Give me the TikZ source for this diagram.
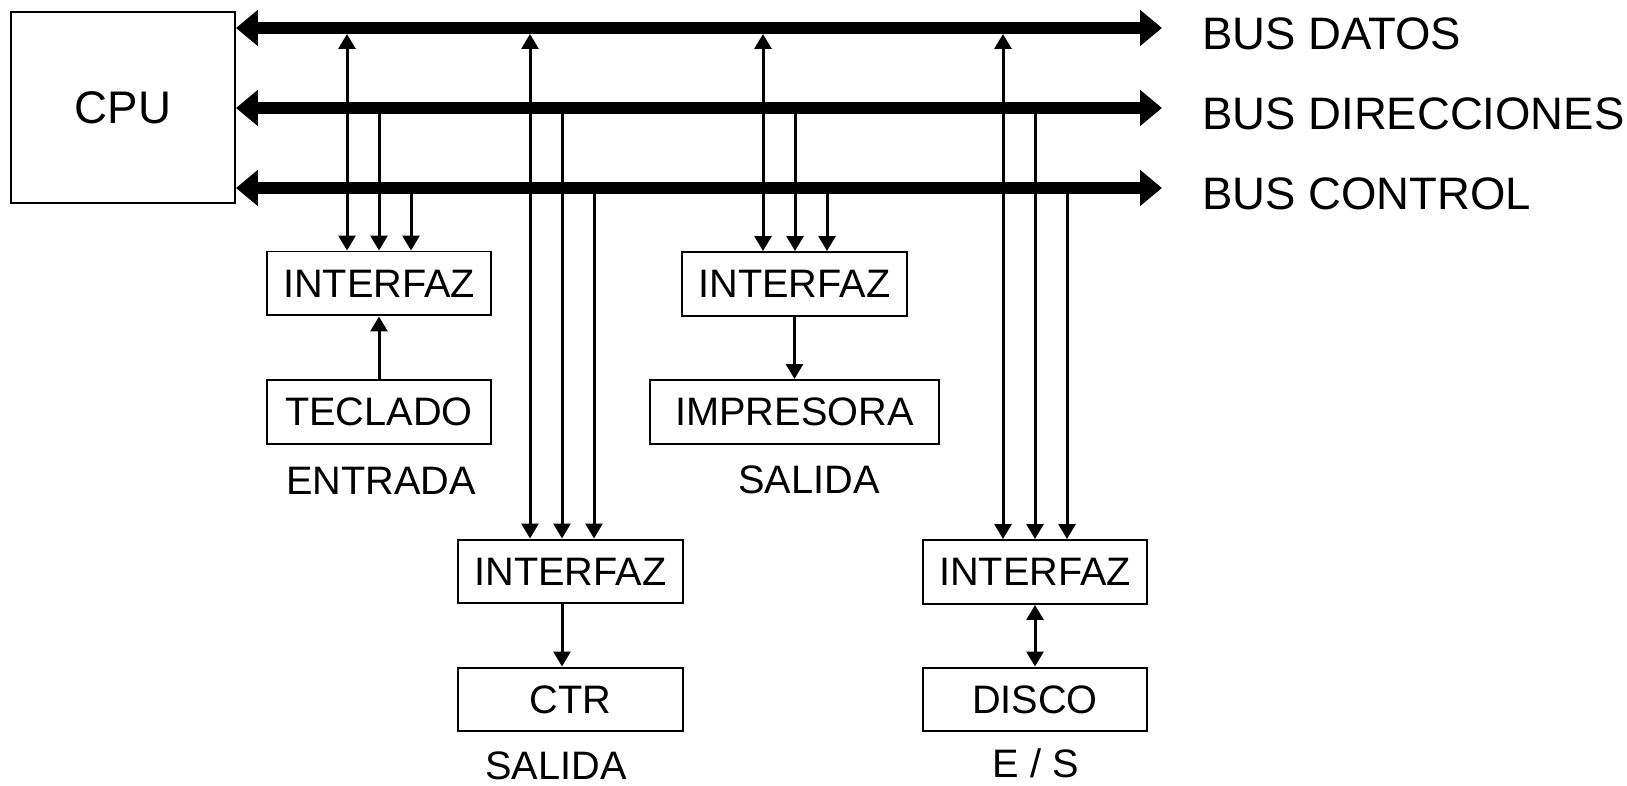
\documentclass[tikz,border=0pt]{standalone}
\usepackage{fontspec}
\setmainfont{Liberation Sans}
\usetikzlibrary{arrows.meta, positioning}

\tikzset{
  box/.style={rectangle, draw, line width=0.04cm, minimum width=4.5cm, minimum height=1.28cm, inner sep=0pt, font=\fontsize{22.6}{27}\selectfont},
  bus/.style={line width=0.24cm, >={Triangle[length=0.44cm, width=0.7cm]}, <->},
  sig/.style={line width=0.06cm, >={Triangle[length=0.3cm, width=0.34cm]}},
  tag/.style={anchor=base, inner sep=0pt, font=\fontsize{22.6}{27}\selectfont},
  buslbl/.style={anchor=base west, inner sep=0pt, font=\fontsize{25.9}{31}\selectfont}
}

\begin{document}
\begin{tikzpicture}[x=0.02cm, y=-0.02cm]
  \useasboundingbox (0,0) rectangle (1627,786);

  % CPU
  \node[box, minimum width=4.48cm, minimum height=3.82cm, font=\fontsize{26}{31}\selectfont] (cpu) at (123,107.5) {CPU};

  % Buses
  \coordinate (dR) at (1162,28);
  \coordinate (aR) at (1162,108);
  \coordinate (cR) at (1162,188);
  \draw[bus] (cpu.east |- dR) -- (dR);
  \draw[bus] (cpu.east |- aR) -- (aR);
  \draw[bus] (cpu.east |- cR) -- (cR);
  \node[buslbl] (ldat) at (1202,50) {BUS DATOS};
  \node[buslbl] (ldir) at (1202,130) {BUS DIRECCIONES};
  \node[buslbl] (lctl) at (1202,210) {BUS CONTROL};

  % Interfaces and devices
  \node[box] (if1) at (379,283.5) {INTERFAZ};
  \node[box] (tec) at (379,412) {TECLADO};
  \node[box] (if2) at (570.5,571.5) {INTERFAZ};
  \node[box] (ctr) at (570.5,699.5) {CTR};
  \node[box] (if3) at (794.5,284) {INTERFAZ};
  \node[box, minimum width=5.78cm] (imp) at (794.5,412) {IMPRESORA};
  \node[box] (if4) at (1035,572) {INTERFAZ};
  \node[box] (dis) at (1035,699.5) {DISCO};

  % Labels
  \node[tag] (ent) at (381,495) {ENTRADA};
  \node[tag] (sal1) at (809,494) {SALIDA};
  \node[tag] (sal2) at (556,780) {SALIDA};
  \node[tag] (es) at (1036,778) {E / S};

  % Bus taps
  \foreach \x/\n in {379/if1, 562/if2, 795/if3, 1035/if4} {
    \draw[sig,<->, shorten <=0.12cm] (\x-32,0 |- dR) -- (\x-32,0 |- \n.north);
    \draw[sig,->] (\x,0 |- aR) -- (\x,0 |- \n.north);
    \draw[sig,->] (\x+32,0 |- cR) -- (\x+32,0 |- \n.north);
  }

  % Devices
  \draw[sig,->] (tec) -- (if1);
  \draw[sig,->] (562,0 |- if2.south) -- (562,0 |- ctr.north);
  \draw[sig,->] (if3) -- (imp);
  \draw[sig,<->] (if4) -- (dis);
\end{tikzpicture}
\end{document}
